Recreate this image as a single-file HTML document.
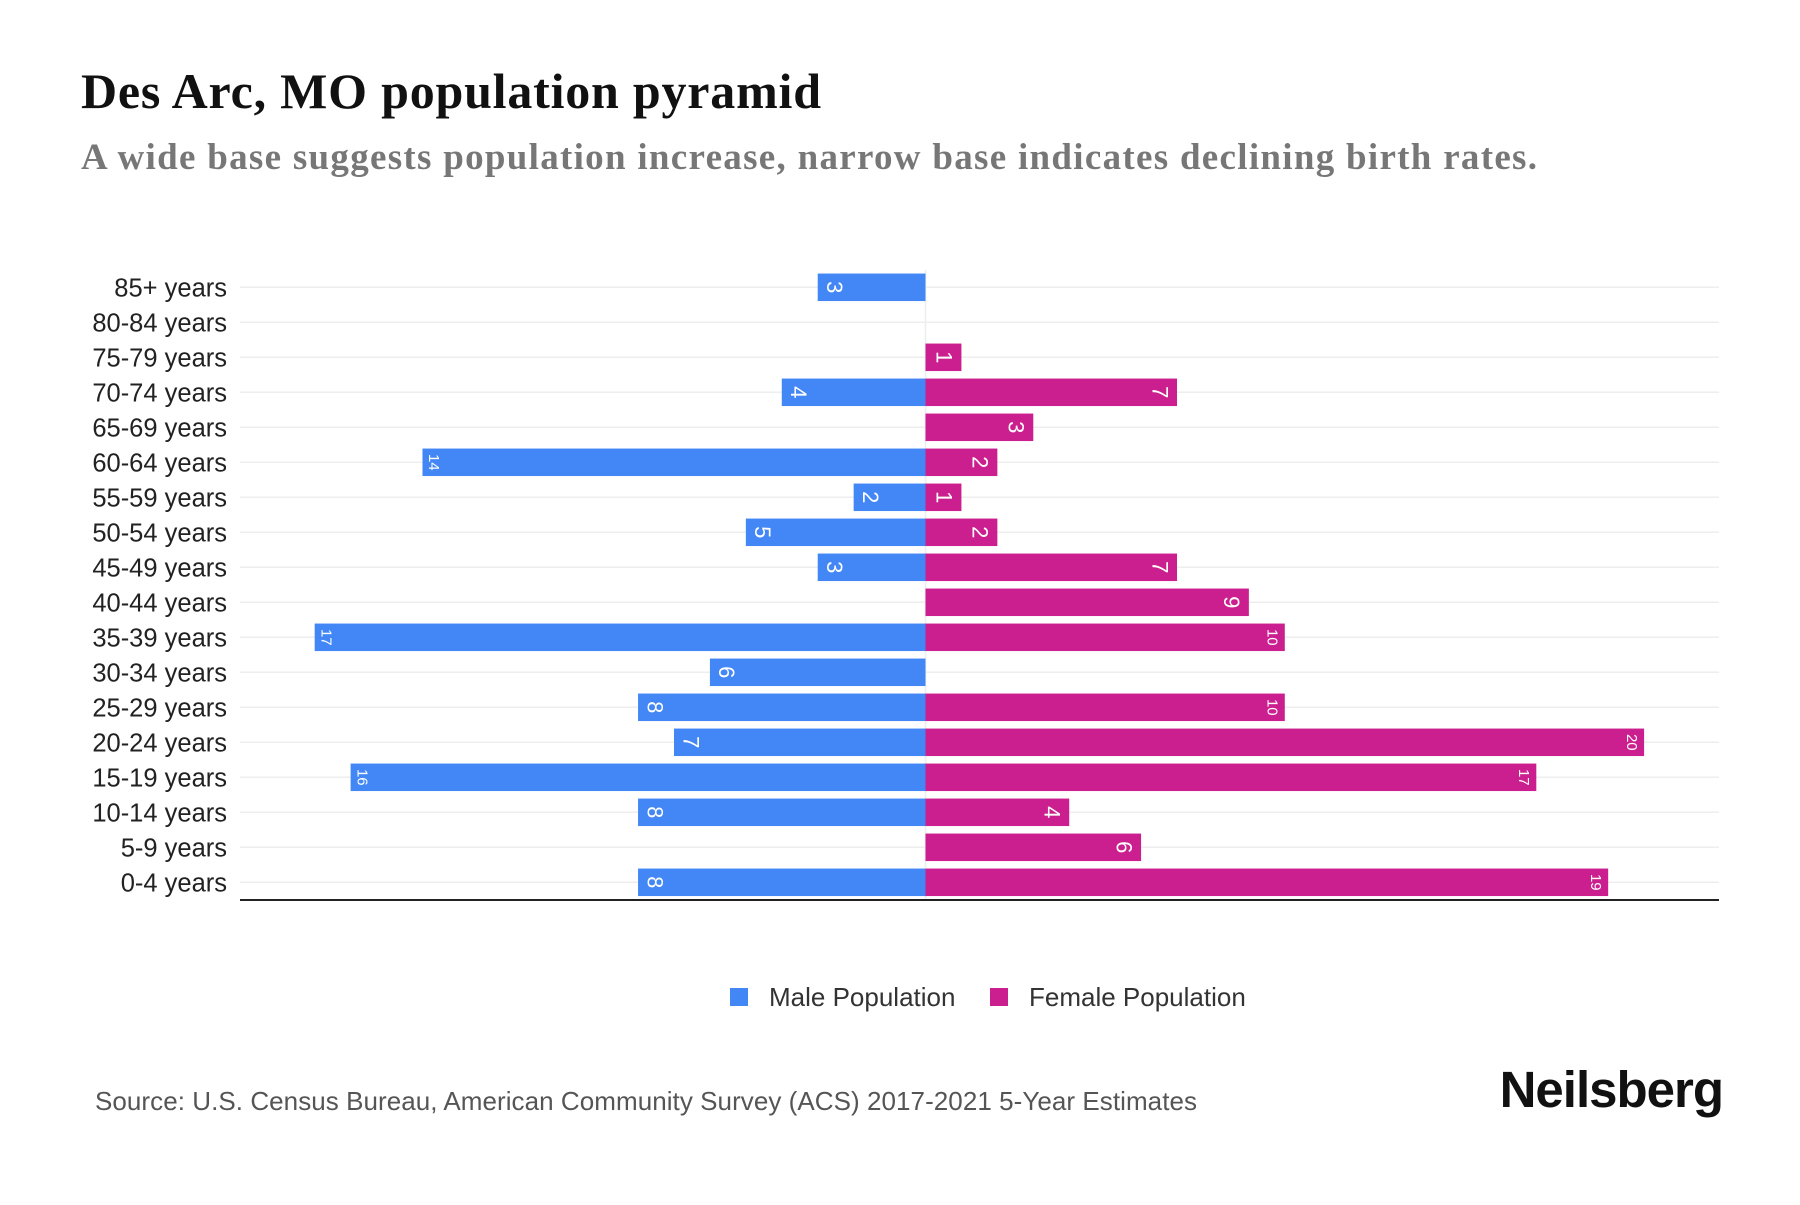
<!DOCTYPE html>
<html><head><meta charset="utf-8">
<style>
html,body{margin:0;padding:0;background:#fff;}
body{width:1800px;height:1200px;overflow:hidden;}
</style></head>
<body>
<svg id="s" width="1800" height="1200" xmlns="http://www.w3.org/2000/svg">
<text x="81" y="108" font-family="'Liberation Serif',serif" font-weight="bold" font-size="50" fill="#111" textLength="740" lengthAdjust="spacing">Des Arc, MO population pyramid</text>
<text x="81" y="169" font-family="'Liberation Serif',serif" font-weight="bold" font-size="37" fill="#777" textLength="1456" lengthAdjust="spacing">A wide base suggests population increase, narrow base indicates declining birth rates.</text>
<g id="chart"></g>
<line x1="240" y1="900" x2="1719" y2="900" stroke="#222" stroke-width="2"/>
<rect x="730" y="988" width="18" height="18" fill="#4287f5"/>
<text x="769" y="1006" font-family="'Liberation Sans',sans-serif" font-size="26" fill="#333">Male Population</text>
<rect x="990" y="988" width="18" height="18" fill="#cc1f8f"/>
<text x="1029" y="1006" font-family="'Liberation Sans',sans-serif" font-size="26" fill="#333">Female Population</text>
<text x="95" y="1110" font-family="'Liberation Sans',sans-serif" font-size="26" fill="#555" textLength="1102" lengthAdjust="spacing">Source: U.S. Census Bureau, American Community Survey (ACS) 2017-2021 5-Year Estimates</text>
<text x="1723" y="1107" text-anchor="end" font-family="'Liberation Sans',sans-serif" font-weight="bold" font-size="51" fill="#111" letter-spacing="-1">Neilsberg</text>
</svg>
<script>
var d=[["85+ years",3,0],["80-84 years",0,0],["75-79 years",0,1],["70-74 years",4,7],["65-69 years",0,3],["60-64 years",14,2],["55-59 years",2,1],["50-54 years",5,2],["45-49 years",3,7],["40-44 years",0,9],["35-39 years",17,10],["30-34 years",6,0],["25-29 years",8,10],["20-24 years",7,20],["15-19 years",16,17],["10-14 years",8,4],["5-9 years",0,6],["0-4 years",8,19]];
var cx=925.5,u=35.93,y0=287.3,st=35.0,bh=27.5,h="";
d.forEach(function(r,i){
 var y=y0+i*st;
 h+='<line x1="240" y1="'+y+'" x2="1719" y2="'+y+'" stroke="#eee" stroke-width="1.5"/>';
 h+='<text x="227" y="'+(y+9)+'" text-anchor="end" font-family="Liberation Sans,sans-serif" font-size="25.5" fill="#222">'+r[0]+'</text>';
});
h+='<line x1="'+cx+'" y1="270" x2="'+cx+'" y2="900" stroke="#eee" stroke-width="1.5"/>';
d.forEach(function(r,i){
 var y=y0+i*st;
 if(r[1]){var w=r[1]*u,x=cx-w;
  h+='<rect x="'+x+'" y="'+(y-bh/2)+'" width="'+w+'" height="'+bh+'" fill="#4287f5"/>';
  var fs=r[1]>=10?15:22,tx=x+(r[1]>=10?12:17);
  h+='<text transform="translate('+tx+','+y+') rotate(90)" text-anchor="middle" dy="'+(fs*0.35)+'" font-family="Liberation Sans,sans-serif" font-size="'+fs+'" fill="#fff">'+r[1]+'</text>';}
 if(r[2]){var w=r[2]*u,x=cx+w;
  h+='<rect x="'+cx+'" y="'+(y-bh/2)+'" width="'+w+'" height="'+bh+'" fill="#cc1f8f"/>';
  var fs=r[2]>=10?15:22,tx=x-(r[2]>=10?12:17);
  h+='<text transform="translate('+tx+','+y+') rotate(90)" text-anchor="middle" dy="'+(fs*0.35)+'" font-family="Liberation Sans,sans-serif" font-size="'+fs+'" fill="#fff">'+r[2]+'</text>';}
});
document.getElementById("chart").innerHTML=h;
</script>
</body></html>
